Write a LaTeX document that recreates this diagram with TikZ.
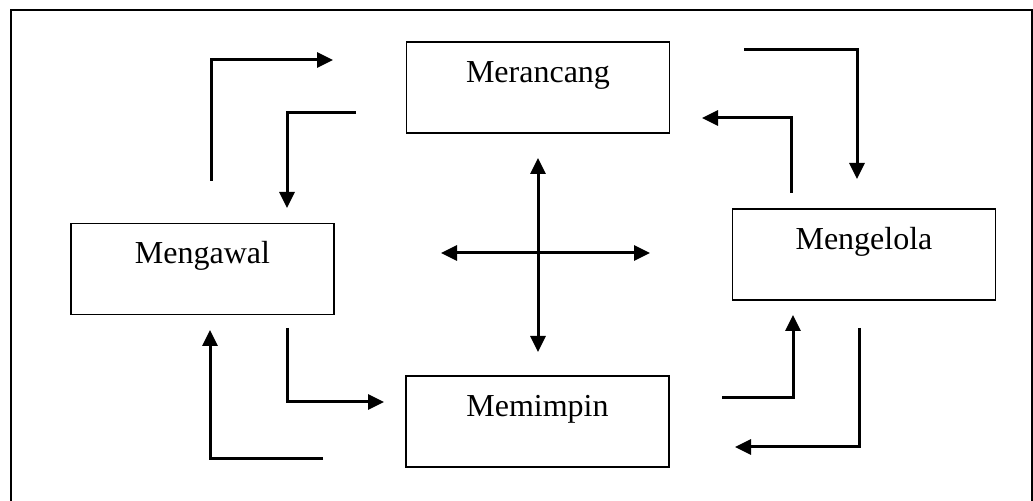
\documentclass[tikz,border=0pt]{standalone}
\usepackage{fontspec}
\setmainfont{Liberation Serif}
\usetikzlibrary{arrows.meta}

\tikzset{
  kotak/.style={draw, line width=0.85pt, minimum width=131.5pt, minimum height=45.5pt,
    inner sep=0pt, text height=11pt, text depth=16pt, font=\fontsize{16}{19}\selectfont},
  panah/.style={line width=1.5pt},
}

\begin{document}
\begin{tikzpicture}[>={Triangle[length=8pt,width=7.5pt]}, x=0.5pt, y=-0.5pt]

\clip (0,0) rectangle (1033,501);

% Bingkai luar
\draw[line width=1pt] (11,10) rectangle (1031.5,520);

% Kotak fungsi pengurusan
\node[kotak] (rancang) at (538,87.5)  {Merancang};
\node[kotak] (kawal)   at (202.5,269) {Mengawal};
\node[kotak] (kelola)  at (864,254.5) {Mengelola};
\node[kotak] (pimpin)  at (537.5,421.5) {Memimpin};

% Hujung anak panah bersiku
\coordinate (p1) at (211,181);  \coordinate (q1) at (333,60);
\coordinate (p2) at (356,113);  \coordinate (q2) at (287,208);
\coordinate (p4) at (744,50);   \coordinate (q4) at (857,179);
\coordinate (p5) at (791,193);  \coordinate (q5) at (702,118);
\coordinate (p6) at (722,398);  \coordinate (q6) at (793,315);
\coordinate (p7) at (859,328);  \coordinate (q7) at (735,447);
\coordinate (p8) at (287,328);  \coordinate (q8) at (384,402);
\coordinate (p9) at (323,459);  \coordinate (q9) at (210,330);

% Menegak dahulu, kemudian mendatar
\foreach \a/\b in {p1/q1, p5/q5, p7/q7, p8/q8}
  \draw[->, panah] (\a) |- (\b);

% Mendatar dahulu, kemudian menegak
\foreach \a/\b in {p2/q2, p4/q4, p6/q6, p9/q9}
  \draw[->, panah] (\a) -| (\b);

% Silang di tengah
\coordinate (atas) at (538,158);  \coordinate (bawah) at (538,352);
\coordinate (kiri) at (441,253);  \coordinate (kanan) at (650,253);
\draw[<->, panah] (atas) -- (bawah);
\draw[<->, panah] (kiri) -- (kanan);

\end{tikzpicture}
\end{document}
